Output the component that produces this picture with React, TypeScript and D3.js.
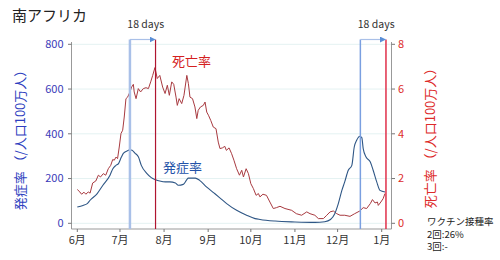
import React from "react";
import * as d3 from "d3";

const title = "南アフリカ";
const startDate = new Date(2021, 5, 1);
const endDate = new Date(2022, 0, 1);

// cases per million (left axis), day offsets from 2021-06-01
const caseDay = [0, 4, 7, 9, 14, 18, 23, 25, 27, 29, 31, 32.5, 36, 37, 38.5, 40.5, 43, 45, 49, 52, 55, 58, 62, 65, 69, 71, 74.5, 77, 78, 83, 86, 91, 96, 100, 105, 112, 119, 125, 128.5, 139, 153, 167, 174, 178, 181, 183.5, 186, 188, 190.5, 193, 194.7, 196.4, 198.7, 200, 201, 203, 206, 208, 210.5, 212.8, 216.3];
const caseRate = [73, 80, 88, 103, 133, 170, 215, 244, 258, 267, 296, 314, 326, 329, 327, 314, 296, 259, 222, 204, 195, 189, 185, 185, 180, 170, 174, 195, 202, 202, 192, 162, 136, 115, 88, 58, 36, 21, 17, 10, 6, 4, 7, 17, 43, 88, 147, 185, 237, 259, 341, 371, 389, 383, 334, 296, 274, 237, 185, 147, 140];

// deaths per million (right axis)
const deathDay = [0, 1.8, 3, 4.7, 6, 7.7, 9, 10.8, 13, 14.8, 16.3, 18.3, 20, 21.8, 23.5, 24.9, 26, 27.2, 28.3, 29.5, 30.7, 31.9, 33, 34.2, 35.4, 37, 38.2, 39.4, 40, 41.3, 42.9, 44.5, 46.4, 48.3, 50, 51.6, 53, 54.6, 56.2, 58, 60, 61.7, 63.3, 64.7, 66.4, 67.8, 69.4, 70.3, 71.6, 73.4, 75, 77, 78.1, 79.2, 81, 82.7, 84, 85, 86.6, 88.6, 89.8, 91, 92.2, 93.8, 95.6, 97.5, 99.1, 100.3, 102, 103.7, 104.8, 106.7, 108.5, 110.1, 112, 114, 115.6, 116.8, 118.7, 120.3, 122, 123.8, 125.7, 127.3, 128.4, 130.5, 133, 135.4, 137.8, 140, 142.5, 146, 150.7, 154, 157.7, 161.3, 163.6, 167, 169.5, 173, 175.4, 177.7, 180, 182.4, 184.7, 188, 191.7, 195, 198.6, 201, 203.4, 206, 207.5, 209.3, 211, 211.6, 213.4, 215, 216.3];
const deathRate = [1.51, 1.40, 1.30, 1.39, 1.30, 1.40, 1.35, 1.80, 1.89, 2.15, 2.07, 2.22, 2.15, 2.44, 2.59, 2.85, 2.82, 2.96, 2.89, 3.41, 4.01, 4.16, 4.75, 5.57, 5.64, 5.87, 6.09, 6.21, 5.87, 5.57, 6.02, 5.87, 6.02, 6.06, 6.02, 6.32, 6.61, 6.96, 6.47, 6.61, 6.09, 5.80, 6.17, 5.72, 6.32, 6.21, 5.64, 5.27, 5.57, 5.35, 5.72, 6.61, 6.24, 5.64, 5.57, 5.20, 4.68, 5.05, 5.20, 5.27, 5.42, 4.97, 4.83, 4.60, 4.30, 4.23, 3.63, 3.34, 3.37, 3.44, 3.26, 3.37, 3.11, 2.82, 2.44, 2.15, 2.37, 2.07, 2.44, 2.22, 1.77, 1.55, 1.25, 1.33, 1.18, 1.30, 1.25, 0.95, 0.66, 0.70, 0.76, 0.66, 0.58, 0.43, 0.36, 0.51, 0.43, 0.36, 0.21, 0.21, 0.36, 0.51, 0.55, 0.43, 0.36, 0.36, 0.31, 0.43, 0.55, 0.70, 0.66, 0.88, 1.06, 0.91, 0.95, 0.80, 0.95, 1.10, 1.33];

const leftTicks = [0, 200, 400, 600, 800];
const rightTicks = [0, 2, 4, 6, 8];

// bracket markers: [start day (blue), end day (red)]
const markerStarts = [37, 199];
const markerEnds = [55, 217];
const markerLabel = "18 days";

const leftTitle = "発症率 （/人口100万人）";
const rightTitle = "死亡率 （/人口100万人）";
const caseLabel = "発症率";
const deathLabel = "死亡率";
const vaccineLines = ["ワクチン接種率", "2回:26%", "3回:-"];

const FONT = "'Noto Sans CJK JP', 'Noto Sans', sans-serif";

const dayToDate = (d: number) => new Date(startDate.getTime() + d * 864e5);

export default function App() {
  const axL = 71.5, axR = 391.5, axB = 229;
  const x = d3.scaleTime().domain([startDate, endDate]).range([77.3, 381.7]);
  const y = d3.scaleLinear().domain([0, 800]).range([223.3, 44.3]);
  const y2 = d3.scaleLinear().domain([0, 8]).range([223.3, 44.3]);

  const casePts: [number, number][] = caseDay.map((d, i) => [x(dayToDate(d)), y(caseRate[i])]);
  const deathPts: [number, number][] = deathDay.map((d, i) => [x(dayToDate(d)), y2(deathRate[i])]);
  const caseLine = d3.line().curve(d3.curveMonotoneX)(casePts) || "";
  const deathLine = d3.line()(deathPts) || "";

  const months = x.ticks(d3.timeMonth.every(1) as any);
  const fmt = d3.timeFormat("%-m月");

  const topY = 39.5;

  return (
    <svg width={500} height={260} style={{ position: "absolute", left: 0, top: 0, background: "#fff" }} fontFamily={FONT}>
      <defs>
        <marker id="arr" viewBox="0 0 10 10" refX="10" refY="5" markerWidth="5" markerHeight="5" orient="auto">
          <path d="M0,0 L10,5 L0,10 z" fill="#5b8fd6" />
        </marker>
      </defs>
      <text x={12} y={20.5} fontSize={15} fill="#222">{title}</text>

      {/* gridlines */}
      {leftTicks.map((t) => (
        <line key={"g" + t} x1={axL} x2={axR} y1={y(t)} y2={y(t)} stroke="#e4f2f2" strokeWidth={1} />
      ))}

      {/* axes */}
      <line x1={axL} x2={axL} y1={42} y2={axB} stroke="#999" strokeWidth={1} />
      <line x1={axR} x2={axR} y1={42} y2={axB} stroke="#999" strokeWidth={1} />
      <line x1={axL} x2={axR} y1={axB} y2={axB} stroke="#999" strokeWidth={1} />

      {leftTicks.map((t) => (
        <g key={"l" + t}>
          <line x1={axL - 3.5} x2={axL} y1={y(t)} y2={y(t)} stroke="#777" />
          <text x={63.5} y={y(t)} dy="0.35em" textAnchor="end" fontSize={11} fill="#3b3bb8">{t}</text>
        </g>
      ))}
      {rightTicks.map((t) => (
        <g key={"r" + t}>
          <line x1={axR} x2={axR + 3.5} y1={y2(t)} y2={y2(t)} stroke="#777" />
          <text x={398} y={y2(t)} dy="0.35em" textAnchor="start" fontSize={11} fill="#dd2b2b">{t}</text>
        </g>
      ))}
      {months.map((m, i) => (
        <g key={"m" + i}>
          <line x1={x(m)} x2={x(m)} y1={axB} y2={axB + 3} stroke="#777" />
          <text x={x(m)} y={244} textAnchor="middle" fontSize={11} fill="#333">{fmt(m)}</text>
        </g>
      ))}

      {/* series */}
      <path d={deathLine} fill="none" stroke="#a83a40" strokeWidth={1} />
      <path d={caseLine} fill="none" stroke="#2e5685" strokeWidth={1.1} />

      {/* markers */}
      {markerStarts.map((s, i) => {
        const xs = x(dayToDate(s));
        const xe = x(dayToDate(markerEnds[i]));
        return (
          <g key={"mk" + i}>
            <line x1={xs} x2={xs} y1={topY} y2={axB} stroke={i === 0 ? "#a9c0e8" : "#7a9fe0"} strokeWidth={i === 0 ? 2.5 : 1.5} />
            <line x1={xe} x2={xe} y1={topY} y2={axB} stroke={i === 0 ? "#b01530" : "#e0304a"} strokeWidth={i === 0 ? 1.2 : 1.5} />
            <line x1={xs} x2={xe} y1={topY} y2={topY} stroke="#a9c0e8" strokeWidth={1.2} markerEnd="url(#arr)" />
            <text x={(xs + xe) / 2 + 3} y={27.5} textAnchor="middle" fontSize={10.5} fill="#333">{markerLabel}</text>
          </g>
        );
      })}

      <text x={172} y={65.5} fontSize={13} fill="#d42020">{deathLabel}</text>
      <text x={163} y={172} fontSize={13} fill="#2252a8">{caseLabel}</text>

      <text transform="translate(25,137) rotate(-90)" textAnchor="middle" fontSize={13} fill="#2f3fc0">{leftTitle}</text>
      <text transform="translate(435,135) rotate(-90)" textAnchor="middle" fontSize={13} fill="#dd2b2b">{rightTitle}</text>

      {vaccineLines.map((t, i) => (
        <text key={"v" + i} x={427} y={225 + i * 12.5} fontSize={9.5} fill="#222">{t}</text>
      ))}
    </svg>
  );
}
